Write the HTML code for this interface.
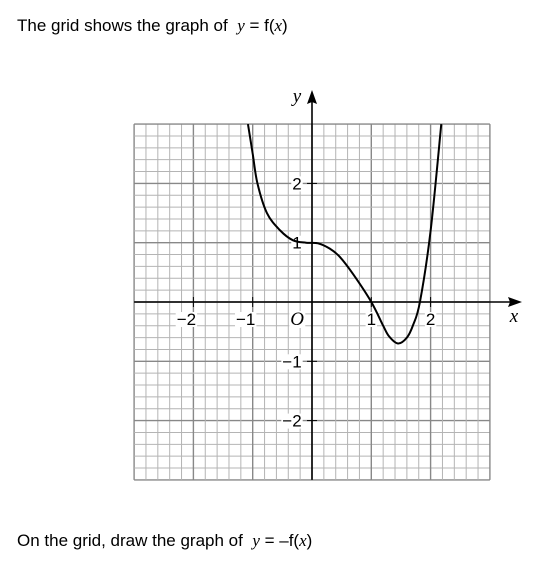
<!DOCTYPE html>
<html><head><meta charset="utf-8"><style>
body{margin:0;background:#fff;width:537px;height:570px;overflow:hidden;font-family:"Liberation Sans",sans-serif}
.t{position:absolute;left:17px;font-size:17px;color:#000}
i{font-family:"Liberation Serif",serif}
</style></head><body>
<div class="t" style="top:16px">The grid shows the graph of &nbsp;<i>y</i> = f(<i>x</i>)</div>
<div class="t" style="top:531px">On the grid, draw the graph of &nbsp;<i>y</i> = –f(<i>x</i>)</div>
<svg id="c" width="537" height="570" style="position:absolute;left:0;top:0"></svg>
<script>
const xs=[-1.08,-1,-0.92,-0.76,-0.54,-0.32,-0.1,0.1,0.3,0.47,0.7,1,1.2,1.3,1.45,1.6,1.7,1.82,2,2.18];
const ys=[3,2.5,2.0,1.5,1.21,1.04,1,0.99,0.9,0.76,0.46,0,-0.4,-0.58,-0.7,-0.6,-0.4,0,1.2,3];
const xTicks=[-2,-1,1,2];
const yTicks=[2,1,-1,-2];
const ox=312,oy=302,u=59.3;
const X=v=>ox+v*u,Y=v=>oy-v*u;
const s=document.getElementById('c');const NS='http://www.w3.org/2000/svg';
function el(t,a,p){const e=document.createElementNS(NS,t);for(const k in a)e.setAttribute(k,a[k]);(p||s).appendChild(e);return e;}
const g=el('g',{});


for(let i=-15;i<=15;i++){const v=i/5,maj=i%5===0;
el('line',{x1:X(v),x2:X(v),y1:Y(3),y2:Y(-3),stroke:maj?'#888':'#b4b4b4','stroke-width':maj?1.4:1},g);
el('line',{y1:Y(v),y2:Y(v),x1:X(-3),x2:X(3),stroke:maj?'#888':'#b4b4b4','stroke-width':maj?1.4:1},g);}
const xa=el('line',{x1:X(-3),x2:518,y1:oy,y2:oy,stroke:'#000','stroke-width':1.6});


const ya=el('line',{x1:ox,x2:ox,y1:Y(-3),y2:96,stroke:'#000','stroke-width':1.6});


el('path',{d:`M522 ${oy} L508 ${oy-5} L510 ${oy} L508 ${oy+5}Z`,fill:'#000'});
el('path',{d:`M${ox} 90 L${ox-5} 104 L${ox} 102 L${ox+5} 104Z`,fill:'#000'});
function txt(x,y,str,name,it){const t=el('text',{x:x,y:y,'text-anchor':'middle','font-size':it?19:17,'font-family':it?'Liberation Serif, serif':'Liberation Sans, sans-serif','font-style':it?'italic':'normal',fill:'#000'});t.textContent=str;


const bb=t.getBBox();const r=el('rect',{x:bb.x-1,y:bb.y+2,width:bb.width+2,height:bb.height-4,fill:'#fff'});s.insertBefore(r,t);return t;}
xTicks.forEach(v=>{el('line',{x1:X(v),x2:X(v),y1:oy-5,y2:oy+5,stroke:'#000'});txt(X(v)-(v<0?7:0),oy+23,(v<0?'−':'')+Math.abs(v),'x-tick-label');});
yTicks.forEach(v=>{el('line',{x1:ox-5,x2:ox+5,y1:Y(v),y2:Y(v),stroke:'#000'});txt(ox-(v<0?20:15),Y(v)+6,(v<0?'−':'')+Math.abs(v),'y-tick-label');});
txt(X(-0.25),oy+23,'O','origin-label',true);
txt(514,oy+20,'x','x-axis-title',true);
txt(297,102,'y','y-axis-title',true);
const P=xs.map((x,i)=>[X(x),Y(ys[i])]);
let d=`M${P[0][0]} ${P[0][1]}`;
for(let i=0;i<P.length-1;i++){const p0=P[i-1]||P[i],p1=P[i],p2=P[i+1],p3=P[i+2]||p2;
d+=` C${p1[0]+(p2[0]-p0[0])/6} ${p1[1]+(p2[1]-p0[1])/6} ${p2[0]-(p3[0]-p1[0])/6} ${p2[1]-(p3[1]-p1[1])/6} ${p2[0]} ${p2[1]}`;}
const c=el('path',{d:d,fill:'none',stroke:'#000','stroke-width':2});


</script>
</body></html>
